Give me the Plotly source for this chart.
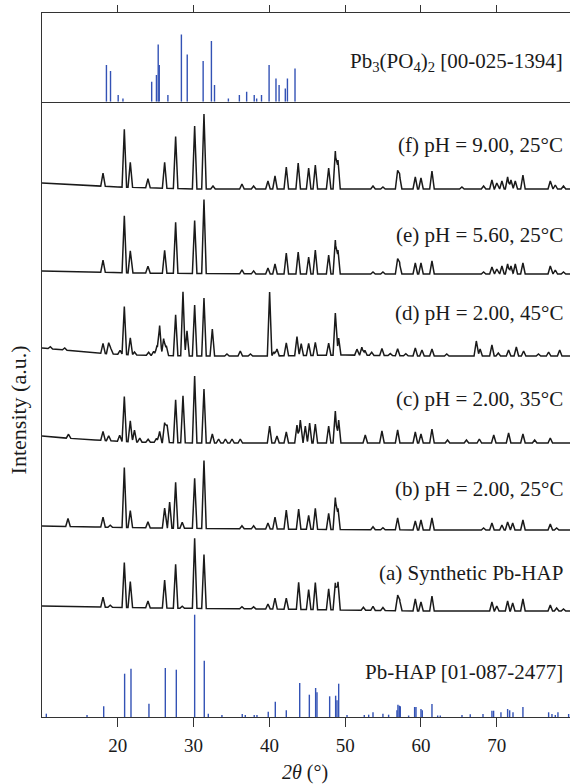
import numpy as np
import plotly.graph_objects as go

# ---------------- data (2theta in degrees, intensities in arbitrary units) ----------------
tick_vals = [20, 30, 40, 50, 60, 70]

# reference pattern Pb3(PO4)2 [00-025-1394]
pb3_pos = [18.50, 19.04, 20.05, 20.68, 24.47, 25.10, 25.33, 25.47, 26.61, 28.39, 29.16, 31.26,
           32.35, 32.76, 34.59, 36.04, 37.00, 38.00, 38.32, 38.96, 39.96, 40.87, 41.28, 42.10,
           42.38, 43.38]
pb3_int = [36.7, 30.7, 6.7, 3.3, 20, 26.7, 57.3, 36.7, 6.7, 67.3, 47.3, 40.7,
           60.7, 16.7, 3.3, 6.7, 10, 6.7, 3.3, 6.7, 36.7, 23.3, 16.7, 13.3,
           23.3, 33.3]

# reference pattern Pb-HAP [01-087-2477]
hap_pos = [10.57, 15.94, 18.14, 20.90, 21.74, 24.11, 26.27, 27.72, 30.14, 31.41, 31.94, 33.74,
           36.42, 36.82, 38.00, 38.36, 39.85, 40.78, 42.23, 44.00, 45.27, 46.10, 46.28, 47.95,
           48.74, 48.92, 49.14, 50.24, 52.52, 53.10, 53.67, 54.98, 55.73, 56.83, 56.96, 57.14,
           57.27, 58.37, 59.16, 59.34, 60.00, 60.17, 61.45, 62.20, 62.55, 65.41, 66.50, 68.18,
           69.36, 69.58, 70.55, 71.43, 71.70, 72.14, 73.45, 76.84, 77.28, 77.72, 78.07, 79.48]
hap_int = [3.3, 2, 10.7, 43.3, 48.3, 13.3, 49, 47.3, 102.3, 56.3, 3.3, 2,
           3, 2, 2, 2, 5.3, 15.3, 6.7, 34, 22.3, 29, 24.7, 20.7,
           21.3, 16.7, 33.3, 2, 2, 2.3, 4.7, 3.3, 2.3, 6.7, 12.3, 11.3,
           10.7, 1.5, 10, 10, 8, 6.7, 13, 1.5, 1.5, 2, 2.7, 3,
           6.3, 6.3, 4.7, 8, 6.7, 4.7, 10, 4.7, 3, 2, 4.7, 3]

# measured patterns: peak positions, peak heights, and background level (offset for stacking)
f_pos = [18.05, 20.86, 21.65, 23.98, 26.18, 27.63, 30.14, 31.37, 32.56, 36.38, 37.92, 39.81,
         40.74, 42.23, 43.80, 45.18, 46.06, 47.82, 48.70, 49.05, 53.67, 54.98, 56.92, 57.18,
         59.25, 60.00, 61.45, 65.40, 68.26, 69.36, 70.00, 70.68, 71.43, 71.87, 72.44, 73.45,
         77.06, 77.72, 78.80]
f_int = [13, 58, 25, 9, 26, 52, 63, 75, 3, 5, 3, 8,
         13, 22, 26, 21, 24, 21, 38, 29, 3, 2, 17, 13,
         12, 11, 18, 2, 3, 9, 6, 8, 12, 9, 8, 14,
         8, 4, 3]
f_bg_x = [10, 15, 20, 30, 40, 60, 80]
f_bg_y = [534, 532, 530, 528, 528, 528, 528]

e_pos = [18.05, 20.86, 21.65, 23.98, 26.18, 27.63, 30.14, 31.37, 36.38, 37.92, 39.81, 40.74,
         42.23, 43.80, 45.18, 46.06, 47.82, 48.70, 49.05, 53.67, 54.98, 56.92, 57.18, 59.25,
         60.00, 61.45, 68.26, 69.36, 70.00, 70.68, 71.43, 71.87, 72.44, 73.45, 77.06, 77.72,
         78.80]
e_int = [12, 57, 22, 7, 23, 51, 53, 74, 4, 3, 6, 10,
         21, 22, 17, 24, 19, 34, 24, 2, 2, 14, 10, 11,
         11, 13, 2, 7, 5, 8, 10, 8, 10, 11, 8, 4,
         2]
e_bg_x = [10, 17, 22, 40, 80]
e_bg_y = [446, 445, 444, 443, 443]

d_pos = [11.10, 13.00, 18.05, 18.80, 19.10, 20.30, 20.86, 21.65, 22.20, 24.07, 24.73, 25.17,
         25.52, 26.05, 26.40, 27.63, 28.60, 29.13, 30.14, 31.37, 32.47, 34.40, 36.16, 37.50,
         40.03, 40.60, 41.00, 42.23, 43.64, 44.20, 45.18, 46.06, 47.82, 48.70, 49.14, 51.55,
         52.20, 52.60, 53.50, 54.85, 55.95, 56.92, 58.00, 59.25, 60.13, 61.45, 63.40, 67.30,
         67.80, 69.36, 70.20, 71.56, 72.58, 73.54, 75.50, 76.84, 78.30]
d_int = [2, 2, 10, 11, 5, 4, 48, 17, 3, 3, 4, 10,
         30, 17, 10, 41, 64, 25, 51, 58, 27, 2, 5, 2,
         64, 4, 7, 13, 19, 12, 12, 13, 12, 42, 17, 6,
         8, 5, 3, 7, 2, 7, 2, 8, 6, 7, 2, 15,
         7, 11, 3, 6, 9, 5, 2, 4, 6]
d_bg_x = [10, 13, 17, 22, 30, 40, 50, 60, 80]
d_bg_y = [369, 367, 364, 362, 361, 361, 362, 361, 361]

c_pos = [13.50, 18.05, 18.80, 20.25, 20.86, 21.65, 22.20, 22.90, 24.00, 25.10, 25.52, 26.18,
         26.50, 27.63, 28.60, 30.14, 31.37, 32.47, 33.30, 34.20, 35.07, 36.16, 40.03, 41.00,
         42.23, 43.64, 44.08, 44.74, 45.31, 46.06, 47.82, 48.70, 49.14, 52.65, 54.85, 56.92,
         59.25, 60.00, 61.45, 63.50, 66.00, 67.70, 69.60, 71.56, 73.45, 75.00, 77.06]
c_int = [4, 9, 5, 6, 45, 21, 12, 4, 3, 4, 11, 20,
         18, 43, 47, 67, 54, 9, 4, 4, 4, 4, 17, 7,
         11, 18, 23, 17, 20, 19, 17, 32, 23, 8, 12, 13,
         11, 9, 14, 3, 3, 4, 8, 10, 9, 3, 5]
c_bg_x = [10, 13, 17, 22, 30, 80]
c_bg_y = [281, 279, 277, 275, 274, 274]

b_pos = [13.43, 18.05, 19.00, 20.86, 21.65, 23.98, 26.18, 26.84, 27.63, 28.50, 30.14, 31.37,
         36.38, 37.92, 39.81, 40.74, 42.23, 43.86, 45.18, 46.06, 47.82, 48.70, 49.05, 53.67,
         54.98, 56.92, 59.25, 60.00, 61.45, 68.26, 69.36, 70.68, 71.43, 72.10, 73.45, 77.06,
         77.90]
b_int = [8, 10, 2, 60, 17, 6, 20, 26, 46, 6, 50, 68,
         3, 3, 6, 12, 19, 20, 14, 21, 16, 32, 21, 3,
         2, 12, 9, 10, 12, 2, 7, 5, 8, 7, 10, 6,
         2]
b_bg_x = [10, 17, 25, 40, 60, 80]
b_bg_y = [191, 190, 189, 188, 187, 187]

a_pos = [18.05, 19.00, 20.86, 21.65, 23.98, 26.18, 27.63, 28.50, 30.14, 31.37, 36.38, 37.92,
         39.81, 40.74, 42.23, 43.86, 45.18, 46.06, 47.82, 48.70, 49.05, 52.40, 53.67, 54.98,
         56.92, 57.20, 59.25, 60.00, 61.45, 69.36, 70.00, 71.43, 72.10, 73.45, 77.06, 77.90,
         78.80]
a_int = [10, 2, 45, 26, 7, 28, 44, 2, 70, 54, 2, 2,
         5, 11, 11, 27, 20, 27, 21, 27, 28, 3, 4, 3,
         15, 10, 12, 9, 15, 9, 5, 10, 8, 12, 6, 3,
         2]
a_bg_x = [10, 17, 25, 40, 60, 80]
a_bg_y = [111, 110, 109, 108, 106, 106]

labels = ["(f) pH = 9.00, 25°C", "(e) pH = 5.60, 25°C", "(d) pH = 2.00, 45°C",
          "(c) pH = 2.00, 35°C", "(b) pH = 2.00, 25°C", "(a) Synthetic Pb-HAP",
          "Pb-HAP [01-087-2477]"]
label_y = [572, 482, 404, 318, 228, 144, 45]
top_label = "Pb<sub>3</sub>(PO<sub>4</sub>)<sub>2</sub> [00-025-1394]"

# ---------------- drawing ----------------
X0, X1 = 10, 79.66
W = 0.3
FONT = "Liberation Serif"
BLUE = "#3352b5"
INK = "#1a1a1a"


def pattern(pos, inten, bgx, bgy):
    verts = set([X0, X1] + list(bgx))
    for p in pos:
        verts.update([p - W, p, p + W])
    xs = np.array(sorted(v for v in verts if X0 <= v <= X1))
    ys = np.interp(xs, bgx, bgy)
    for p, h in zip(pos, inten):
        ys = ys + h * np.clip(1 - np.abs(xs - p) / W, 0, None)
    return xs, ys


def sticks(pos, inten):
    xs, ys = [], []
    for p, h in zip(pos, inten):
        xs += [p, p, None]
        ys += [0, h, None]
    return xs, ys


fig = go.Figure()

for pos, inten, bgx, bgy in [(f_pos, f_int, f_bg_x, f_bg_y), (e_pos, e_int, e_bg_x, e_bg_y),
                             (d_pos, d_int, d_bg_x, d_bg_y), (c_pos, c_int, c_bg_x, c_bg_y),
                             (b_pos, b_int, b_bg_x, b_bg_y), (a_pos, a_int, a_bg_x, a_bg_y)]:
    xs, ys = pattern(pos, inten, bgx, bgy)
    fig.add_trace(go.Scatter(x=xs, y=ys, mode="lines", line=dict(color=INK, width=1.5),
                             xaxis="x", yaxis="y", hoverinfo="skip"))

sx, sy = sticks(hap_pos, hap_int)
fig.add_trace(go.Scatter(x=sx, y=sy, mode="lines", line=dict(color=BLUE, width=1.4),
                         xaxis="x", yaxis="y", connectgaps=False))
tx, ty = sticks(pb3_pos, pb3_int)
fig.add_trace(go.Scatter(x=tx, y=ty, mode="lines", line=dict(color=BLUE, width=1.4),
                         xaxis="x2", yaxis="y2", connectgaps=False))

annotations = []
for t, yv in zip(labels, label_y):
    annotations.append(dict(text=t, x=0.9905, xref="paper", y=yv, yref="y", xanchor="right",
                            yanchor="middle", showarrow=False,
                            font=dict(family=FONT, size=21, color=INK)))
annotations.append(dict(text=top_label, x=0.9905, xref="paper", y=40, yref="y2",
                        xanchor="right", yanchor="middle", showarrow=False,
                        font=dict(family=FONT, size=21, color=INK)))
annotations.append(dict(text="<i>2θ</i> (°)", x=0.498, xref="paper", y=-0.0795, yref="paper",
                        xanchor="center", yanchor="middle", showarrow=False,
                        font=dict(family=FONT, size=20, color=INK)))
annotations.append(dict(text="Intensity (a.u.)", x=-0.0455, xref="paper", y=307.6, yref="y",
                        xanchor="center", yanchor="middle", textangle=-90, showarrow=False,
                        font=dict(family=FONT, size=22, color=INK)))

DOM = 615.3 / 704
axis_common = dict(showgrid=False, zeroline=False, linecolor="#333", linewidth=1.3)
fig.update_layout(
    width=570, height=784,
    margin=dict(l=42, r=0, t=13, b=67),
    paper_bgcolor="white", plot_bgcolor="white",
    showlegend=False,
    xaxis=dict(domain=[0, 1], range=[X0, X1], anchor="y", tickvals=tick_vals,
               ticks="outside", ticklen=9, tickwidth=1.3, tickcolor="#333", showline=True,
               ticklabelstandoff=2,
               tickfont=dict(family=FONT, size=19, color=INK), **axis_common),
    yaxis=dict(domain=[0, DOM], range=[0, 615.3], showline=True, showticklabels=False,
               ticks="", anchor="x", **axis_common),
    xaxis2=dict(domain=[0, 1], range=[X0, X1], anchor="y2", side="top", tickvals=tick_vals,
                ticks="outside", ticklen=7, tickwidth=1.3, tickcolor="#333",
                showticklabels=False, showline=True, mirror=True, **axis_common),
    yaxis2=dict(domain=[DOM, 1], range=[0, 704 - 615.3], showline=True, showticklabels=False,
                ticks="", anchor="x2", **axis_common),
    annotations=annotations,
)

fig.write_html("out.html", config={"displayModeBar": False})

# remove the browser's default page margin so the figure sits at the window's origin
with open("out.html", "r", encoding="utf-8") as fh:
    html = fh.read()
html = html.replace("<head>", "<head><style>html,body{margin:0;padding:0;overflow:hidden}</style>", 1)
with open("out.html", "w", encoding="utf-8") as fh:
    fh.write(html)
